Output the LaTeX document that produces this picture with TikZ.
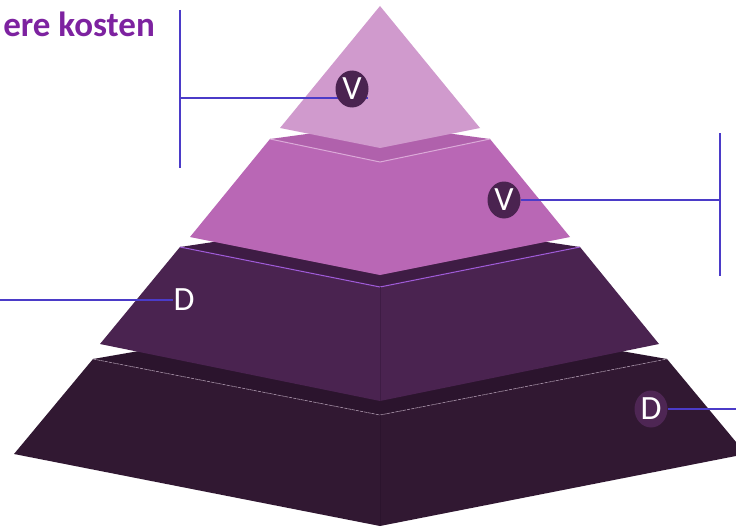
\documentclass[tikz,border=0pt]{standalone}
\usepackage{fontspec}
\setmainfont{Carlito}
\usetikzlibrary{shapes.geometric}
\definecolor{tierA}{HTML}{D09ACD}
\definecolor{tierB}{HTML}{B967B5}
\definecolor{tierBtop}{HTML}{B061AC}
\definecolor{tierBline}{HTML}{DBA9D8}
\definecolor{tierC}{HTML}{4A2350}
\definecolor{tierCtop}{HTML}{3E1C44}
\definecolor{tierCline}{HTML}{9E5AD6}
\definecolor{tierD}{HTML}{311832}
\definecolor{tierDtop}{HTML}{2B142D}
\definecolor{tierDline}{HTML}{A58FA6}
\definecolor{markD}{HTML}{4E2654}
\definecolor{linkcol}{HTML}{4B3BC8}
\definecolor{titlecol}{HTML}{7D22A0}
\tikzset{
  face/.style = {draw=none},
  link/.style = {draw=linkcol, line width=1.3pt},
  mark_n/.style = {ellipse, inner sep=0pt, minimum width=33pt,
    minimum height=37pt, text=white, font=\fontsize{34}{34}\selectfont},% rond, lettre blanche
  dark_mark/.style = {mark_n, fill=tierC},
  soft_mark/.style = {mark_n, fill=markD},
  plain_mark/.style = {inner sep=0pt, text=white, font=\fontsize{34}{34}\selectfont},
}

\begin{document}
\begin{tikzpicture}[x=1pt,y=-1pt]
\clip (0,0) rectangle (736,527);

% onderste laag
\fill[tierDtop] (93,359) -- (380,309) -- (667,359) -- (380,415) -- cycle;
\fill[tierD] (93,359) -- (380,415) -- (667,359) -- (746,454) -- (380,526) -- (14,454) -- cycle;
\draw[tierDline, line width=0.6pt, dash pattern=on 3pt off 1pt] (93,359) -- (380,415) -- (667,359);
\draw[tierDtop, line width=0.6pt] (380,415) -- (380,526);

% derde laag
\fill[tierCtop] (180,247) -- (380,217) -- (580,247) -- (380,287) -- cycle;
\fill[tierC] (180,247) -- (380,287) -- (580,247) -- (659,344) -- (380,401) -- (100,344) -- cycle;
\draw[tierCline, line width=1pt] (180,247) -- (380,287) -- (580,247);
\draw[tierCtop, line width=0.6pt] (380,287) -- (380,401);

% tweede laag
\fill[tierBtop] (270,139) -- (380,124) -- (490,139) -- (380,162) -- cycle;
\fill[tierB] (270,139) -- (380,162) -- (490,139) -- (570,237) -- (380,275) -- (190,237) -- cycle;
\draw[tierBline, line width=1pt] (270,139) -- (380,162) -- (490,139);

% top
\fill[tierA] (380,6) -- (280,128) -- (380,148) -- (480,128) -- cycle;

% titel
\node[anchor=base east, inner sep=0pt, text=titlecol,
  font=\fontsize{35}{35}\selectfont\bfseries] (title) at (155,37) {ere kosten};

% haken en verbindingen
\coordinate (lt_top) at (180,10);
\coordinate (lt_bot) at (180,168);
\coordinate (lt_mid) at (180,98);
\coordinate (lt_end) at (368,98);
\coordinate (rt_top) at (720,133);
\coordinate (rt_bot) at (720,276);
\coordinate (rt_mid) at (720,200);
\coordinate (ld_end) at (0,300);
\coordinate (rd_end) at (736,409);

\draw[link] (lt_top) -- (lt_bot);
\draw[link] (lt_mid) -- (lt_end);
\draw[link] (rt_top) -- (rt_bot);

\node[dark_mark] (v_top) at (352,89) {V};
\node[dark_mark] (v_mid) at (504,200) {V};
\node[plain_mark] (d_mid) at (184,300) {D};
\node[soft_mark] (d_low) at (651,409) {D};

\draw[link] (v_mid.east) -- (rt_mid);
\draw[link] (ld_end) -- (d_mid.west);
\draw[link] (d_low.east) -- (rd_end);
\end{tikzpicture}
\end{document}
